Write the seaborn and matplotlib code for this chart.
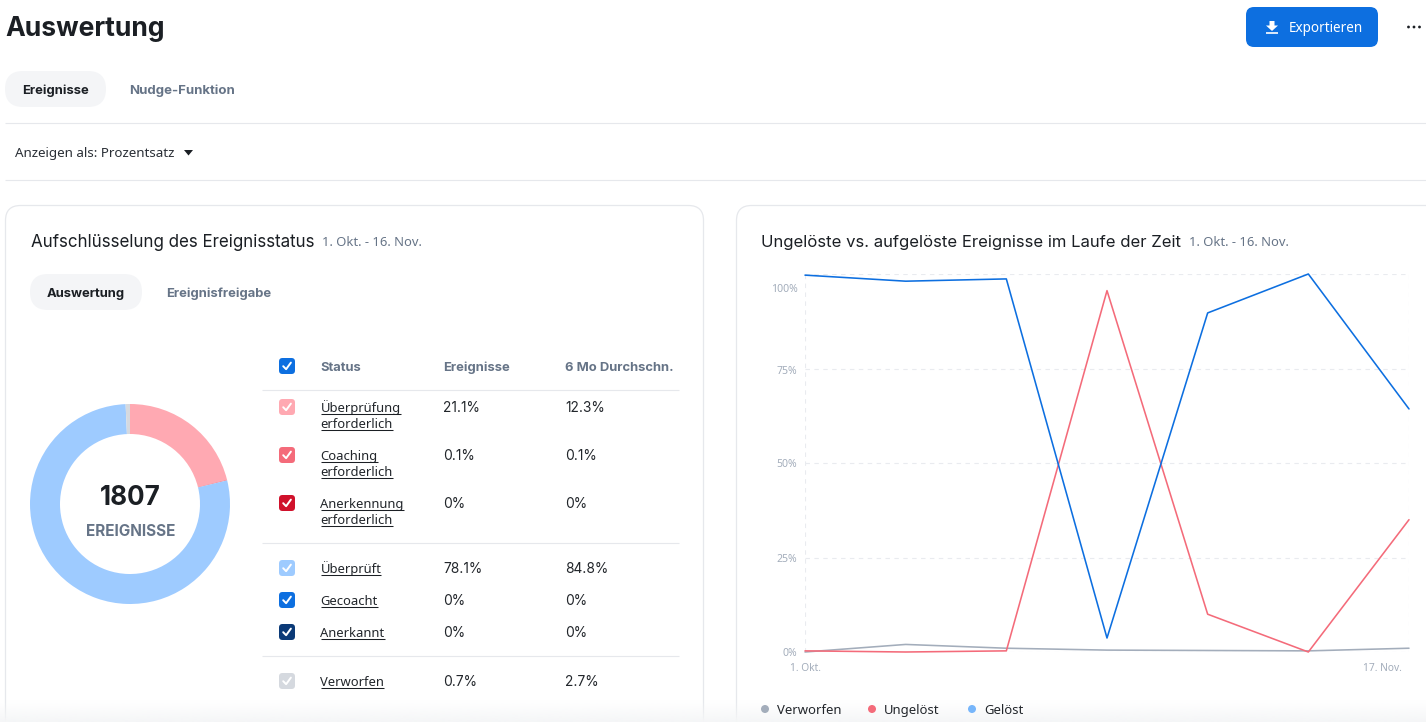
import numpy as np
import pandas as pd
import matplotlib
matplotlib.use("Agg")
import matplotlib.pyplot as plt
import seaborn as sns
from matplotlib.patches import FancyBboxPatch, Polygon, Circle
from matplotlib.lines import Line2D
from matplotlib.transforms import ScaledTranslation
from matplotlib.colors import to_rgb

# ---- data ----
periods = [0, 1, 2, 3, 4, 5, 6]
geloest = [99.7, 98.1, 98.7, 3.7, 89.7, 100.0, 64.3]
ungeloest = [0.3, 0.0, 0.3, 95.6, 10.0, 0.0, 35.0]
verworfen = [0.0, 2.0, 1.0, 0.5, 0.4, 0.3, 1.0]
series_names = ["Verworfen", "Ungelöst", "Gelöst"]
y_ticks = [0, 25, 50, 75, 100]
y_tick_labels = ["0%", "25%", "50%", "75%", "100%"]
x_tick_labels = ["1. Okt.", "17. Nov."]

donut_values = [21.1, 0.1, 78.1, 0.7]
donut_total = "1807"
donut_caption = "EREIGNISSE"

status_rows = [["Überprüfung", "erforderlich"], ["Coaching", "erforderlich"],
               ["Anerkennung", "erforderlich"], ["Überprüft"], ["Gecoacht"],
               ["Anerkannt"], ["Verworfen"]]
events_pct = ["21.1%", "0.1%", "0%", "78.1%", "0%", "0%", "0.7%"]
avg_pct = ["12.3%", "0.1%", "0%", "84.8%", "0%", "0%", "2.7%"]

# ---- style ----
sns.set_theme(style="white")
HEAD = "Inter"
BODY = "Noto Sans"
plt.rcParams["font.family"] = [BODY, "DejaVu Sans"]

INK = "#1b1f24"
SLATE = "#667487"
AXISC = "#a3adbb"
GRID = "#e9ebef"
RULE = "#e6e8ec"
PILL = "#f4f5f7"
BLUE = "#0d6fe0"
row_colors = ["#ffa9b2", "#f46b7a", "#d0112b", "#9ecbff", "#0d6fe0", "#0b3a77", "#d5d9df"]
donut_colors = ["#ffa9b2", "#f46b7a", "#9ecbff", "#d5d9df"]
line_colors = {"Verworfen": "#a3adbb", "Ungelöst": "#f46b7a", "Gelöst": "#0d6fe0"}
legend_colors = ["#a3adbb", "#f46b7a", "#77b6fb"]

W, H = 1426, 722
fig = plt.figure(figsize=(W / 100, H / 100), dpi=100, facecolor="white")


def px_axes(x0, y0, x1, y1, **kw):
    return fig.add_axes([x0 / W, 1 - y1 / H, (x1 - x0) / W, (y1 - y0) / H], **kw)


bg = fig.add_axes([0, 0, 1, 1], zorder=0)
bg.set_xlim(0, W)
bg.set_ylim(H, 0)
bg.axis("off")


def T(x, y, s, px, color=INK, weight="normal", family=BODY, ha="left", underline=False):
    base = y + px * 0.36
    t = bg.text(x, base, s, fontsize=px * 0.72, color=color, fontweight=weight,
                family=family, ha=ha, va="baseline", zorder=6)
    if underline:
        bb = t.get_window_extent(fig.canvas.get_renderer())
        bg.plot([bb.x0, bb.x1], [base + 2.2] * 2, color=INK, lw=0.75,
                solid_capstyle="butt", zorder=6)
    return t


def round_box(x0, y0, x1, y1, r, fc="none", ec="none", lw=1.0, z=1):
    bg.add_patch(FancyBboxPatch((x0 + r, y0 + r), x1 - x0 - 2 * r, y1 - y0 - 2 * r,
                                boxstyle=f"round,pad={r},rounding_size={r}",
                                fc=fc, ec=ec, lw=lw, zorder=z, clip_on=True))


def rule(x0, x1, y, z=2):
    bg.plot([x0, x1], [y, y], color=RULE, lw=0.8, solid_capstyle="butt", zorder=z)


def checkbox(cx, cy, color):
    round_box(cx - 8, cy - 8, cx + 8, cy + 8, 3.5, fc=color, z=4)
    bg.add_line(Line2D([cx - 3.8, cx - 0.9, cx + 3.9], [cy + 0.2, cy + 3.2, cy - 3.4],
                       color="white", lw=1.4, zorder=5, solid_capstyle="round"))


# ---- page header ----
T(5.5, 26.5, "Auswertung", 26.5, weight="bold", family=HEAD)
round_box(1246, 7, 1378, 47, 8, fc=BLUE)
T(1289, 27.5, "Exportieren", 13.5, color="white")
bg.add_patch(Polygon([[1269.5, 21], [1274.5, 21], [1274.5, 25.5], [1278, 25.5], [1272, 31],
                      [1266, 25.5], [1269.5, 25.5]], fc="white", ec="none", zorder=4))
bg.plot([1266, 1278], [33, 33], color="white", lw=1.2, solid_capstyle="butt", zorder=4)
for dx in (1408.5, 1414, 1419.5):
    bg.add_patch(Circle((dx, 27), 1.4, fc=INK, ec="none", zorder=4))

round_box(5, 71, 106, 107, 18, fc=PILL)
T(55.5, 89, "Ereignisse", 13, weight="bold", family=HEAD, ha="center")
T(129.5, 89, "Nudge-Funktion", 13.2, color=SLATE, weight="bold", family=HEAD)
rule(5, W, 123)
T(15, 152.5, "Anzeigen als: Prozentsatz", 13.4, color="#2a2f36")
bg.add_patch(Polygon([[184, 150], [193, 150], [188.5, 155.5]], fc=INK, ec="none", zorder=4))
rule(5, W, 180)

# ---- cards ----
round_box(5.5, 205.5, 703.5, 760, 15, fc="white", ec=RULE, lw=0.9)
round_box(736.5, 205.5, 1470, 760, 15, fc="white", ec=RULE, lw=0.9)

# left card
T(31, 241, "Aufschlüsselung des Ereignisstatus", 16.95, family=HEAD)
T(322.5, 241.5, "1. Okt. - 16. Nov.", 13, color=SLATE)
round_box(30, 274, 142, 310, 18, fc=PILL)
T(86, 292, "Auswertung", 13, weight="bold", family=HEAD, ha="center")
T(166, 292, "Ereignisfreigabe", 13, color=SLATE, weight="bold", family=HEAD)

# table
checkbox(287, 366, BLUE)
T(320.5, 366.5, "Status", 13, color=SLATE, weight="bold", family=HEAD)
T(443, 366.5, "Ereignisse", 13, color=SLATE, weight="bold", family=HEAD)
T(565, 366.5, "6 Mo Durchschn.", 13, color=SLATE, weight="bold", family=HEAD)
rule(262, 679, 390)
rule(262, 679, 543)
rule(262, 679, 656)
row_y = [407, 455, 503, 568, 600, 632, 681]
for yy, lines, ev, av, col in zip(row_y, status_rows, events_pct, avg_pct, row_colors):
    checkbox(287, yy, col)
    for i, ln in enumerate(lines):
        T(320.5, yy + 16 * i, ln, 13, underline=True, color="#22262b")
    T(443, yy, ev, 13.8, color="#22262b", family=HEAD)
    T(565, yy, av, 13.8, color="#22262b", family=HEAD)

# donut
T(130.5, 495.5, donut_total, 26, weight="bold", family=HEAD, ha="center")
T(130.5, 530.5, donut_caption, 15.3, color=SLATE, weight="bold", family=HEAD, ha="center")
dax = px_axes(30, 404, 230, 604, zorder=3)
dax.pie(donut_values, colors=donut_colors, startangle=90, counterclock=False, radius=1.0,
        wedgeprops=dict(width=0.3, linewidth=0))
dax.set_xlim(-1, 1)
dax.set_ylim(-1, 1)
dax.patch.set_alpha(0)

# right card
T(761, 241, "Ungelöste vs. aufgelöste Ereignisse im Laufe der Zeit", 16.7, family=HEAD)
T(1189, 241.5, "1. Okt. - 16. Nov.", 13, color=SLATE)

df = pd.DataFrame({
    "period": periods * 3,
    "pct": verworfen + ungeloest + geloest,
    "series": [n for n in series_names for _ in periods],
})
ax = px_axes(805, 274, 1409, 652, zorder=2)
ax.patch.set_alpha(0)
sns.lineplot(data=df, x="period", y="pct", hue="series", hue_order=series_names,
             palette=line_colors, legend=False, ax=ax, linewidth=1.15, clip_on=False,
             errorbar=None, estimator=None, sort=False)
ax.set_xlim(periods[0], periods[-1])
ax.set_ylim(0, 100)
ax.set_xlabel("")
ax.set_ylabel("")
ax.set_yticks(y_ticks)
ax.set_yticklabels(y_tick_labels, fontsize=10.5 * 0.72, color=AXISC)
ax.set_xticks([periods[0], periods[-1]])
ax.set_xticklabels(x_tick_labels, fontsize=10.2 * 0.72, color=AXISC)
ax.tick_params(axis="both", length=0, pad=5.5)
ax.tick_params(axis="x", pad=8)
ax.grid(True, axis="y", color=GRID, lw=0.8, ls=(0, (4, 4)))
ax.grid(True, axis="x", color=GRID, lw=0.8, ls=(0, (4, 4)))
ax.set_axisbelow(True)
sns.despine(ax=ax, left=True, bottom=True, top=True, right=True)
ylabs = ax.get_yticklabels()
ylabs[-1].set_transform(ylabs[-1].get_transform() +
                        ScaledTranslation(0, -14 / 100, fig.dpi_scale_trans))
ylabs[3].set_transform(ylabs[3].get_transform() +
                       ScaledTranslation(0, -2 / 100, fig.dpi_scale_trans))
xlabs = ax.get_xticklabels()
xlabs[1].set_transform(xlabs[1].get_transform() +
                       ScaledTranslation(-27 / 100, 0, fig.dpi_scale_trans))

# legend
for lx, tx, name, col in zip([765, 872, 972], [777, 884, 984], series_names, legend_colors):
    bg.add_patch(Circle((lx, 709), 4, fc=col, ec="none", zorder=4))
    T(tx, 709.5, name, 13.1, color="#22262b")

# soft fade at the bottom
fade = np.ones((40, 2, 4))
fade[..., :3] = to_rgb("#f5f6f7")
fade[..., 3] = np.linspace(0, 1, 40)[:, None] ** 1.2
bg.imshow(fade, extent=(0, W, H, 700), aspect="auto", zorder=3, interpolation="bilinear")
bg.set_xlim(0, W)
bg.set_ylim(H, 0)

fig.savefig("out.png", dpi=100, facecolor="white")
